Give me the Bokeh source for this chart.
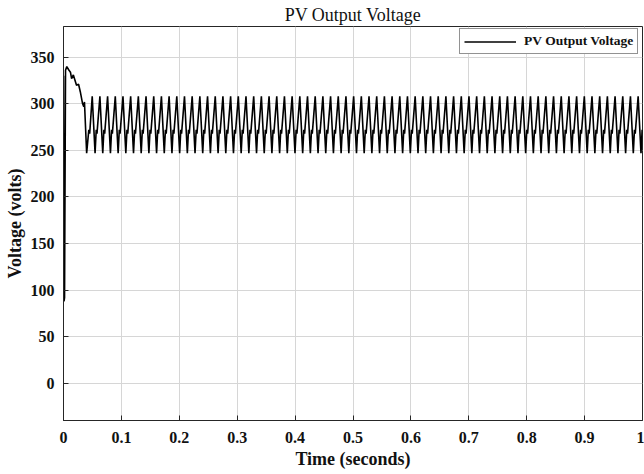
import numpy as np
from bokeh.plotting import figure
from bokeh.models import Range1d, FixedTicker, Legend, LegendItem, NumeralTickFormatter, Title
from bokeh.embed import file_html
from bokeh.resources import INLINE

# ---- data ----
# start-up transient (time s, voltage V)
transient_t = [0.0, 0.0009, 0.0018, 0.0035, 0.0057, 0.0095, 0.0120, 0.0140, 0.0170, 0.0225,
               0.0260, 0.0290, 0.0330, 0.0350, 0.0362, 0.0400, 0.0437, 0.0452]
transient_v = [330, 88, 92, 336, 340, 336, 334, 327, 331, 320,
               321, 313, 300, 297, 302, 247, 272, 268]

# one steady-state ripple cycle, as read (phase within the cycle, voltage V)
cycle_phase = [0.0, 0.37, 0.52, 0.62]
cycle_volts = [308, 247, 272, 268]
first_peak_t = 0.0496     # time of the first ripple peak
ripple_period = 0.01328   # seconds between peaks
n_cycles = 72

x_ticks = [0, 0.1, 0.2, 0.3, 0.4, 0.5, 0.6, 0.7, 0.8, 0.9, 1.0]
y_ticks = [0, 50, 100, 150, 200, 250, 300, 350]

# ---- build the series ----
ss_t = []
ss_v = []
for k in range(n_cycles):
    for ph, vv in zip(cycle_phase, cycle_volts):
        ss_t.append(first_peak_t + (k + ph) * ripple_period)
        ss_v.append(vv)
t = np.array(transient_t + ss_t)
v = np.array(transient_v + ss_v)

FONT = "Liberation Serif"
INK = "#262626"

p = figure(width=644, height=474, x_range=Range1d(0, 1), y_range=Range1d(-40, 383),
           output_backend="svg", toolbar_location=None,
           min_border_left=63, min_border_right=2, min_border_top=24, min_border_bottom=54)
p.title = Title(text="PV Output Voltage", align="center", text_font=FONT,
                text_font_size="18px", text_font_style="normal", text_color="#111111",
                standoff=4)

r = p.line(t, v, line_color="black", line_width=1.6)

for ax in (p.xaxis[0], p.yaxis[0]):
    ax.major_tick_in = 5
    ax.major_tick_out = 0
    ax.minor_tick_line_color = None
    ax.axis_line_color = INK
    ax.major_tick_line_color = INK
    ax.major_label_text_font = FONT
    ax.major_label_text_font_style = "bold"
    ax.major_label_text_font_size = "16px"
    ax.major_label_text_color = "#111111"
    ax.axis_label_text_font = FONT
    ax.axis_label_text_font_style = "bold"
    ax.axis_label_text_font_size = "18px"
    ax.axis_label_text_color = "#111111"

p.xaxis.ticker = FixedTicker(ticks=x_ticks)
p.xaxis.formatter = NumeralTickFormatter(format="0.[0]")
p.xaxis.axis_label = "Time (seconds)"
p.xaxis.major_label_standoff = 11
p.xaxis.axis_label_standoff = 3

p.yaxis.ticker = FixedTicker(ticks=y_ticks)
p.yaxis.axis_label = "Voltage (volts)"
p.yaxis.major_label_standoff = 9
p.yaxis.axis_label_standoff = 3

p.grid.grid_line_color = "#d6d6d6"
p.grid.grid_line_width = 1
p.outline_line_color = INK
p.outline_line_width = 1
p.background_fill_color = "white"
p.border_fill_color = "white"

legend = Legend(items=[LegendItem(label="PV Output Voltage", renderers=[r])],
                location=(396, 366), margin=0, padding=4, spacing=0,
                glyph_width=52, glyph_height=13, label_height=13, label_standoff=8,
                label_text_font=FONT, label_text_font_style="bold",
                label_text_font_size="13.5px", label_text_color="#111111",
                border_line_color=INK, border_line_width=1,
                background_fill_color="white", background_fill_alpha=1.0)
p.add_layout(legend)

open("out.html", "w").write(file_html(p, INLINE))
